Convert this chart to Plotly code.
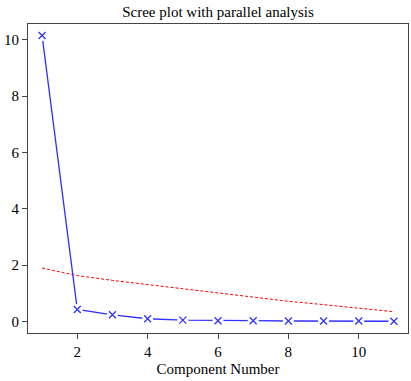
import plotly.graph_objects as go

components = [1, 2, 3, 4, 5, 6, 7, 8, 9, 10, 11]
eigenvalues = [10.15, 0.43, 0.24, 0.10, 0.05, 0.03, 0.03, 0.02, 0.02, 0.02, 0.01]
parallel = [1.90, 1.63, 1.46, 1.31, 1.15, 1.00, 0.86, 0.72, 0.60, 0.48, 0.35]
x_ticks = [2, 4, 6, 8, 10]
y_ticks = [0, 2, 4, 6, 8, 10]

font = "Liberation Serif"

fig = go.Figure()
fig.add_trace(go.Scatter(x=components, y=parallel, mode="lines",
                         line=dict(color="red", width=1, dash="3px,2px"),
                         hoverinfo="skip"))
fig.add_trace(go.Scatter(x=components, y=eigenvalues, mode="lines",
                         line=dict(color="#3030ff", width=1.3), hoverinfo="skip"))
# white masks to create gaps around points (R type="b")
fig.add_trace(go.Scatter(x=components, y=eigenvalues, mode="markers",
                         marker=dict(symbol="circle", size=11, color="white",
                                     line=dict(width=0)), hoverinfo="skip"))
fig.add_trace(go.Scatter(x=components, y=eigenvalues, mode="markers",
                         marker=dict(symbol="x-thin", size=7,
                                     line=dict(color="#3030ff", width=1.3))))

fig.update_layout(
    width=411, height=381,
    margin=dict(l=28, r=3, t=24, b=48),
    paper_bgcolor="white", plot_bgcolor="white",
    showlegend=False,
    font=dict(family=font, size=15, color="black"),
    title=dict(text="Scree plot with parallel analysis", x=0.5, xref="paper",
               xanchor="center", y=1 - 12 / 381, yanchor="middle",
               font=dict(family=font, size=15, color="black")),
    xaxis=dict(range=[0.6, 11.4], tickvals=x_ticks, ticks="outside", ticklen=5,
               tickcolor="#444", showline=True, mirror=True, linecolor="#444",
               linewidth=1, showgrid=False, zeroline=False,
               title=dict(text="Component Number", standoff=4,
                          font=dict(family=font, size=15))),
    yaxis=dict(range=[-0.406, 10.556], tickvals=y_ticks, ticks="outside",
               ticklen=5, tickcolor="#444", showline=True, mirror=True,
               linecolor="#444", linewidth=1, showgrid=False, zeroline=False),
)

fig.write_html("out.html", config={"displayModeBar": False})
with open("out.html", "r", encoding="utf-8") as f:
    html = f.read()
html = html.replace("<body>", '<body style="margin:0;padding:0;overflow:hidden">', 1)
with open("out.html", "w", encoding="utf-8") as f:
    f.write(html)
